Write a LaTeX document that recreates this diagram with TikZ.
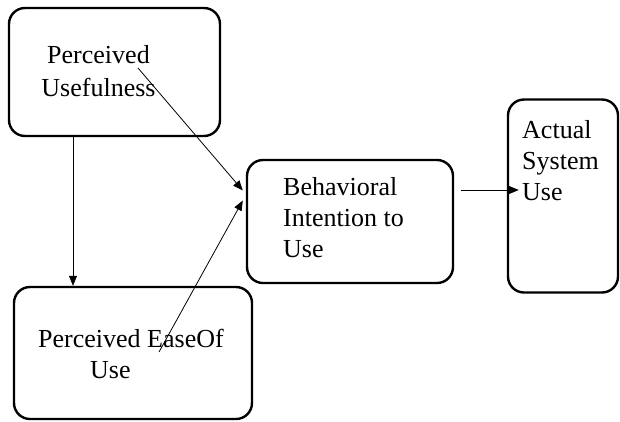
\documentclass[tikz,border=0pt]{standalone}
\usepackage{fontspec}
\setmainfont{Liberation Serif}
\usetikzlibrary{arrows.meta}

\begin{document}
\begin{tikzpicture}[
    x=1pt, y=-1pt,
    every node/.style={font=\fontsize{26}{31}\selectfont},
    tambox/.style={
        draw=black,
        line width=2.4pt,
        rounded corners=16pt,
        inner sep=0pt
    },
    boxtext/.style={
        inner sep=0pt,
        anchor=base west,
        align=left
    },
    arr/.style={-{Triangle[length=10pt,width=8pt]}, line width=0.8pt}
]
\useasboundingbox (0,0) rectangle (620,421);

% ---------- the four boxes ----------
\node[tambox, minimum width=211pt, minimum height=128pt] (pu) at (114.5,72) {};
\node[tambox, minimum width=238pt, minimum height=132pt] (peou) at (133,353) {};
\node[tambox, minimum width=206pt, minimum height=123pt] (bi) at (350,221.5) {};
\node[tambox, minimum width=110pt, minimum height=193pt] (asu) at (563,196) {};

% ---------- texts (base = last line) ----------
\node[boxtext, anchor=base, align=center] (putext) at (98.5,96) {Perceived\\[2pt] Usefulness};
\node[boxtext] (peoutext) at (38,378) {Perceived EaseOf\\\hspace*{52pt}Use};
\node[boxtext] (bitext) at (283,257) {Behavioral\\Intention to\\Use};
\node[boxtext] (asutext) at (522,200) {Actual\\System\\Use};

% ---------- connectors ----------
\coordinate (pudrop) at ([xshift=-41.5pt]pu.south);
\draw[arr, line width=0.6pt] (pudrop) -- (pudrop |- peou.north);

\coordinate (putail) at (138,68);
\coordinate (peoutail) at (159,352);
\draw[arr] (putail) -- ([xshift=-3pt,yshift=31pt]bi.west);
\draw[arr] (peoutail) -- ([xshift=-3pt,yshift=21pt]bi.west);

\coordinate (bitail) at ([xshift=7pt,yshift=31.5pt]bi.east);
\coordinate (asuin) at ([xshift=12pt]asu.west);
\draw[arr] (bitail) -- (bitail -| asuin);

\end{tikzpicture}
\end{document}
